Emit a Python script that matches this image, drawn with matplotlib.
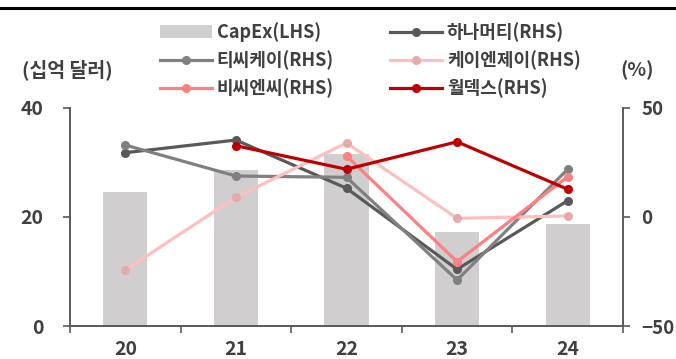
import matplotlib
matplotlib.use("Agg")
import matplotlib.pyplot as plt
from matplotlib.lines import Line2D
from matplotlib.patches import Patch
import numpy as np

plt.rcParams['font.family'] = ['Noto Sans CJK KR', 'DejaVu Sans']

years = ['20', '21', '22', '23', '24']
capex = [24.6, 28.7, 31.5, 17.2, 18.8]

hana = [29.5, 35.3, 13.2, -24.0, 7.5]
tck = [33.0, 18.8, 18.2, -28.9, 21.9]
knj = [-24.3, 9.0, 34.0, -0.6, 0.5]
bcnc = [np.nan, np.nan, 28.0, -20.5, 18.5]
wonik = [np.nan, 32.7, 21.9, 34.5, 12.7]

series = [
    ('하나머티(RHS)', hana, '#595959', '#595959'),
    ('티씨케이(RHS)', tck, '#808080', '#808080'),
    ('케이엔제이(RHS)', knj, '#FFBFBF', '#E8A9A9'),
    ('비씨엔씨(RHS)', bcnc, '#FF8080', '#FF8080'),
    ('월덱스(RHS)', wonik, '#C00000', '#C00000'),
]

txt = '#404040'
spine_c = '#595959'
W, H = 676, 359

fig = plt.figure(figsize=(W / 100, H / 100), dpi=100)
ax = fig.add_axes([70/W, 1-326/H, (623-70)/W, (326-108)/H])
ax2 = ax.twinx()

x = np.arange(len(years))
ax.bar(x, capex, width=0.4, color='#D0CECE', zorder=1)
ax.set_ylim(0, 40)
ax.set_yticks([0, 20, 40])
ax.set_xlim(-0.5, 4.5)
ax.set_xticks(x)
ax.set_xticklabels(years)
ax.set_xticks(np.arange(-0.5, 5, 1), minor=True)
ax.tick_params(axis='x', which='major', length=0, pad=10)
ax.tick_params(axis='x', which='minor', length=5, width=1.2, color=spine_c, direction='out')
ax.tick_params(axis='y', length=5, width=1.2, color=spine_c, direction='out', pad=14)

handles = {}
for name, vals, c, mc in series:
    ln, = ax2.plot(x, vals, color=c, lw=2.3, marker='o', ms=5.5,
                   markerfacecolor=mc, markeredgecolor=mc, zorder=3, label=name)
    handles[name] = ln
ax2.set_ylim(-50, 50)
ax2.set_yticks([-50, 0, 50])
ax2.tick_params(axis='y', length=5, width=1.2, color=spine_c, direction='out', pad=8)

for a in (ax, ax2):
    a.spines['top'].set_visible(False)
    for s in ('left', 'right', 'bottom'):
        a.spines[s].set_color(spine_c)
        a.spines[s].set_linewidth(1.2)
    for lab in a.get_xticklabels() + a.get_yticklabels():
        lab.set_fontsize(14)
        lab.set_fontweight('bold')
        lab.set_color(txt)
for lab in ax2.get_yticklabels():
    lab.set_fontsize(13.5)
ax.patch.set_visible(False)
ax.set_zorder(0)

# two legend columns, placed separately
bar_h = Patch(facecolor='#D0CECE', edgecolor='none', label='CapEx(LHS)')
col1 = [bar_h, handles['티씨케이(RHS)'], handles['비씨엔씨(RHS)']]
col2 = [handles['하나머티(RHS)'], handles['케이엔제이(RHS)'], handles['월덱스(RHS)']]
leg_kw = dict(loc='upper left', frameon=False, borderpad=0, borderaxespad=0,
              handlelength=2.9, handletextpad=0.25, labelspacing=0.47,
              prop={'size': 13, 'weight': 'bold'})
for hs, x0 in ((col1, 160), (col2, 390)):
    leg = fig.legend(handles=hs, bbox_to_anchor=(x0/W, 1-22/H), **leg_kw)
    for t in leg.get_texts():
        t.set_color(txt)

fig.text(22/W, 1-70/H, '(십억 달러)', fontsize=14, fontweight='bold',
         color=txt, va='center', ha='left')
fig.text(637/W, 1-70/H, '(%)', fontsize=14, fontweight='bold',
         color=txt, va='center', ha='center')

# top rule
fig.add_artist(Line2D([0, 1], [1-7.5/H, 1-7.5/H], color='black', lw=2.2,
                      transform=fig.transFigure))

fig.savefig('out.png', dpi=100)
